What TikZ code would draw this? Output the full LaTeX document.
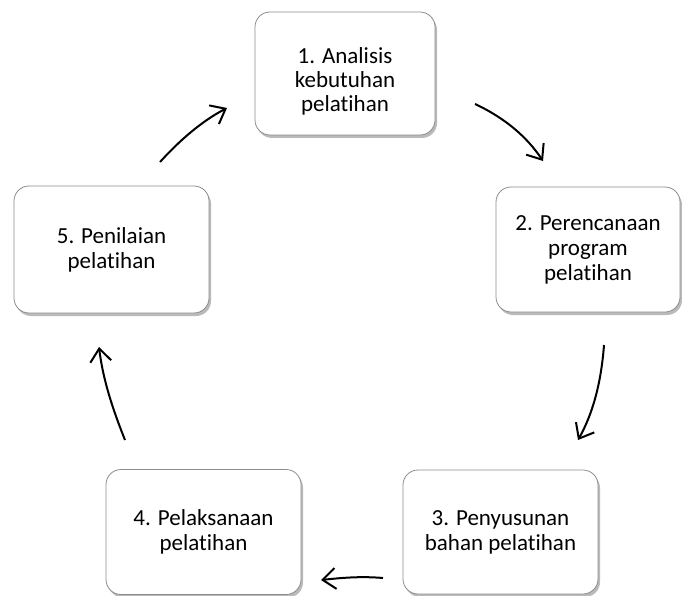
\documentclass[tikz,border=0pt]{standalone}
\usepackage{fontspec}
\setmainfont[Ligatures=NoCommon]{Carlito}
\usetikzlibrary{arrows.meta,shadows}
\begin{document}
\begin{tikzpicture}[x=1pt,y=-1pt,
  stepbox/.style={draw=black!45, line width=0.8pt, fill=white, rounded corners=15pt,
    drop shadow={shadow xshift=2pt, shadow yshift=-3pt, fill=black!45, opacity=0.6},
    align=center, font=\fontsize{23}{25}\selectfont, text=black, inner sep=0pt},
  steptext/.style={align=center, font=\fontsize{23}{24}\selectfont, text=black, inner sep=0pt},
  flow/.style={line width=2pt, -{Straight Barb[length=13pt,width=21pt,line width=2pt]}}]
\useasboundingbox (0,0) rectangle (682,596);
% boxes
\node[stepbox, minimum width=180pt, minimum height=123pt] (b1) at (345,73.5) {};
\node[steptext] (t1) at ([yshift=-8pt]b1.center) {1. Analisis\\kebutuhan\\pelatihan};
\node[stepbox, minimum width=184pt, minimum height=125pt] (b2) at (588,249.5) {2. Perencanaan\\program\\pelatihan};
\node[stepbox, minimum width=195pt, minimum height=124pt] (b3) at (500.5,532) {3. Penyusunan\\bahan pelatihan};
\node[stepbox, minimum width=195pt, minimum height=125pt] (b4) at (203.5,532) {4. Pelaksanaan\\pelatihan};
\node[stepbox, minimum width=195pt, minimum height=127pt] (b5) at (111.5,249.5) {5. Penilaian\\pelatihan};
% arrow endpoints
\coordinate (s12) at (475,104); \coordinate (e12) at (543,161);
\coordinate (s23) at (604,345); \coordinate (e23) at (578,440);
\coordinate (s34) at (383,578); \coordinate (e34) at (321,580);
\coordinate (s45) at (125,440); \coordinate (e45) at (99,347);
\coordinate (s51) at (160,162); \coordinate (e51) at (227,108);
\draw[flow] (s12) .. controls (505,118) and (527,137) .. (e12);
\draw[flow] (s23) .. controls (601,385) and (592,415) .. (e23);
\draw[flow] (s34) .. controls (360,576) and (340,578) .. (e34);
\draw[flow] (s45) .. controls (113,410) and (103,380) .. (e45);
\draw[flow] (s51) .. controls (180,140) and (202,121) .. (e51);
\end{tikzpicture}
\end{document}
